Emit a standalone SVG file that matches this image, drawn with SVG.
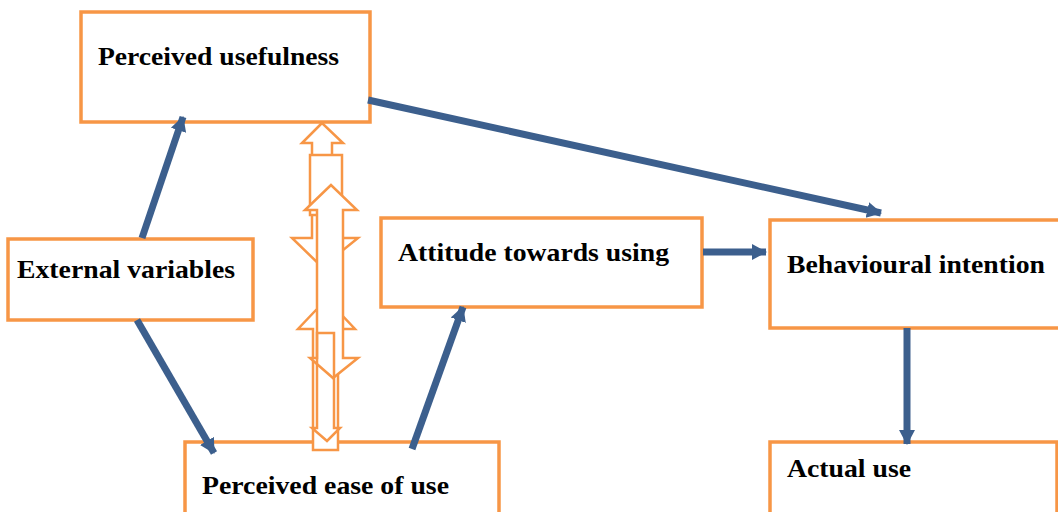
<svg xmlns="http://www.w3.org/2000/svg" width="1058" height="512" viewBox="0 0 1058 512">
<style>
.box{fill:#fff;stroke:#F79646;stroke-width:3.5}
.lbl{font-family:"Liberation Serif",serif;font-weight:bold;font-size:25px;fill:#000}
.con{stroke:#3C5F8D;stroke-width:7;fill:none}
.dbl{fill:#fff;stroke:#F79646;stroke-width:2.5;stroke-linejoin:miter}
</style>
<defs>
<marker id="ah" markerUnits="userSpaceOnUse" markerWidth="16" markerHeight="18" viewBox="0 0 16 18" refX="14" refY="9" orient="auto">
<path d="M0,1 L15,9 L0,17 Z" fill="#3C5F8D"/>
</marker>
</defs>
<rect width="1058" height="512" fill="#fff"/>
<g id="pu"><rect class="box" x="81" y="12" width="289" height="110"/><text class="lbl" x="98" y="65" textLength="241" lengthAdjust="spacingAndGlyphs">Perceived usefulness</text></g>
<g id="ev"><rect class="box" x="8" y="239" width="245" height="81"/><text class="lbl" x="17" y="278" textLength="218" lengthAdjust="spacingAndGlyphs">External variables</text></g>
<g id="att"><rect class="box" x="381" y="218" width="321" height="89"/><text class="lbl" x="398" y="261" textLength="271" lengthAdjust="spacingAndGlyphs">Attitude towards using</text></g>
<g id="bi"><rect class="box" x="770" y="220" width="300" height="108"/><text class="lbl" x="787" y="273" textLength="258" lengthAdjust="spacingAndGlyphs">Behavioural intention</text></g>
<g id="peou"><rect class="box" x="185" y="442" width="314" height="90"/><text class="lbl" x="202" y="494" textLength="247" lengthAdjust="spacingAndGlyphs">Perceived ease of use</text></g>
<g id="au"><rect class="box" x="770" y="442" width="287" height="90"/><text class="lbl" x="787" y="477" textLength="124" lengthAdjust="spacingAndGlyphs">Actual use</text></g>
<g id="mutual">
<polygon class="dbl" points="322,123 302,143 312,143 312,238 292,238 322,267 358,238 332,238 332,143 343,143"/>
<rect class="dbl" x="310" y="155" width="32" height="60"/>
<polygon class="dbl" points="316,310 298,329 313,329 313,450 338,450 338,329 355,329 337,310"/>
<polygon class="dbl" points="331,185 305,210 317,210 317,358 310,358 333,378 358,358 343,358 343,210 357,210"/>
<polygon class="dbl" fill="none" style="fill:none" points="317,333 317,428 312,428 327,441 340,428 334,428 334,333"/>
</g>
<g id="connectors">
<line class="con" x1="368" y1="100" x2="881" y2="213" marker-end="url(#ah)"/>
<line class="con" x1="142" y1="238" x2="183" y2="117" marker-end="url(#ah)"/>
<line class="con" x1="137" y1="320" x2="214" y2="453" marker-end="url(#ah)"/>
<line class="con" x1="412" y1="449" x2="463" y2="307" marker-end="url(#ah)"/>
<line class="con" x1="703" y1="252" x2="766" y2="252" marker-end="url(#ah)"/>
<line class="con" x1="907" y1="328" x2="907" y2="444" marker-end="url(#ah)"/>
</g>
</svg>
